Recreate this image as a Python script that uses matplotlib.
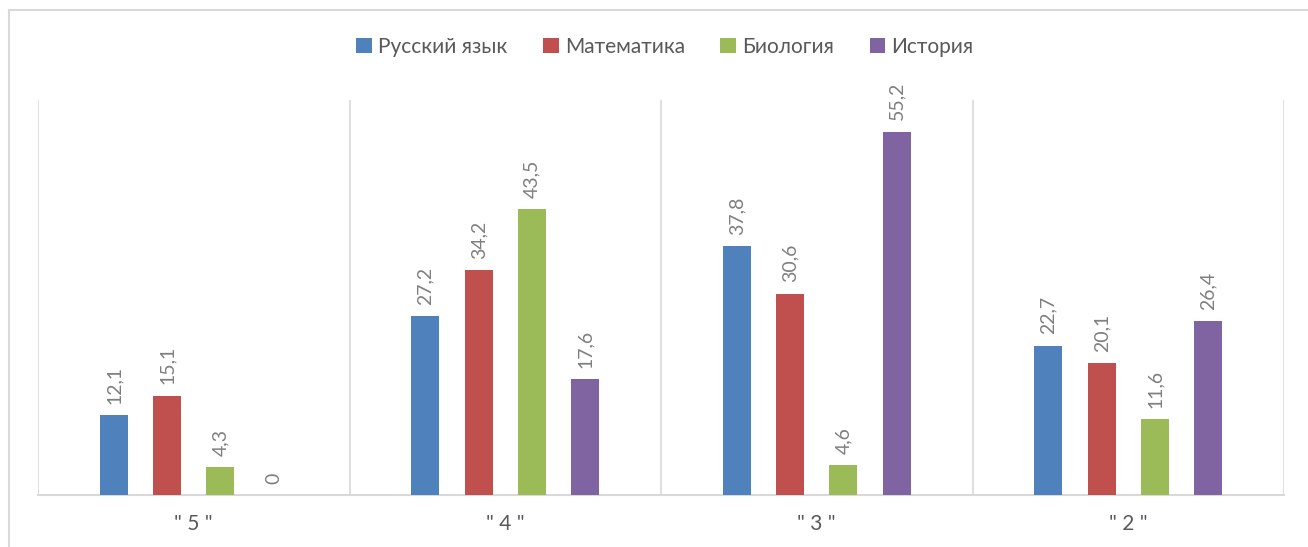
import matplotlib.pyplot as plt
import numpy as np
from matplotlib.lines import Line2D

plt.rcParams['font.family'] = ['Lato', 'DejaVu Sans']

categories = ['" 5 "', '" 4 "', '" 3 "', '" 2 "']
subjects = ['Русский язык', 'Математика', 'Биология', 'История']
russian = [12.1, 27.2, 37.8, 22.7]
math = [15.1, 34.2, 30.6, 20.1]
biology = [4.3, 43.5, 4.6, 11.6]
history = [0, 17.6, 55.2, 26.4]
series = [russian, math, biology, history]
colors = ['#4F81BD', '#C0504D', '#9BBB59', '#8064A2']

fig = plt.figure(figsize=(13.08, 5.47), dpi=100)
ax = fig.add_axes([38 / 1308, 1 - 495 / 547, (1284 - 38) / 1308, (495 - 100) / 547])

x = np.arange(len(categories))
width = 0.09
step = 0.171
for i, (vals, col, name) in enumerate(zip(series, colors, subjects)):
    pos = x + (i - 1.5) * step
    bars = ax.bar(pos, vals, width, color=col, label=name, zorder=3)
    for b, v in zip(bars, vals):
        ax.annotate(str(v).replace('.', ','), (b.get_x() + b.get_width() / 2, v),
                    xytext=(0, 8), textcoords='offset points', rotation=90,
                    ha='center', va='bottom', fontsize=14, color='#7f7f7f')

ax.set_xlim(-0.5, len(categories) - 0.5)
ax.set_ylim(0, 60)
ax.set_yticks([])
ax.set_xticks(x)
ax.set_xticklabels(categories, fontsize=15, color='#595959')
ax.tick_params(axis='x', length=0, pad=14)
for b in np.arange(len(categories) + 1) - 0.5:
    ax.axvline(b, color='#d9d9d9', linewidth=1.2, zorder=1)
for s in ['top', 'left', 'right']:
    ax.spines[s].set_visible(False)
ax.spines['bottom'].set_color('#d9d9d9')
ax.spines['bottom'].set_linewidth(1.5)

fig.legend(loc='center', bbox_to_anchor=(665 / 1308, 1 - 47 / 547), ncol=4,
           frameon=False, fontsize=15, handlelength=0.75, handleheight=0.75,
           handletextpad=0.3, columnspacing=1.7, labelcolor='#595959')

# border of the chart area
fig.add_artist(Line2D([9 / 1308, 9 / 1308], [0, 1 - 10 / 547], color='#d9d9d9', linewidth=1.5))
fig.add_artist(Line2D([9 / 1308, 1], [1 - 10 / 547, 1 - 10 / 547], color='#d9d9d9', linewidth=1.5))

plt.savefig('out.png', dpi=100)
